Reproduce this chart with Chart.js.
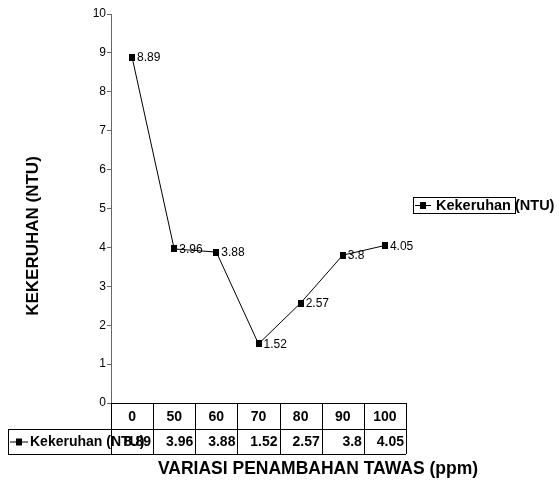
<!DOCTYPE html>
<html><head><meta charset="utf-8">
<script src="https://cdn.jsdelivr.net/npm/chart.js@4"></script>
<style>html,body{margin:0;padding:0;background:#fff}#wrap{width:559px;height:480px;position:relative}</style>
</head><body><div id="wrap"><canvas id="c" width="559" height="480"></canvas></div>
<script>
const categories = ['0', '50', '60', '70', '80', '90', '100'];
const turbidity = [8.89, 3.96, 3.88, 1.52, 2.57, 3.8, 4.05];
const seriesName = 'Kekeruhan (NTU)';
const xTitle = 'VARIASI PENAMBAHAN TAWAS (ppm)';
const yTitle = 'KEKERUHAN (NTU)';
const yMin = 0, yMax = 10, yStep = 1;

const FONT = '"Liberation Sans", Arial, sans-serif';

// small black rectangle marker
const markerCanvas = document.createElement('canvas');
markerCanvas.width = 6; markerCanvas.height = 7;
(function () { const m = markerCanvas.getContext('2d'); m.fillStyle = '#000'; m.fillRect(0, 0, 6, 7); })();

function drawMarker(ctx, x, y, len) {
  ctx.save();
  ctx.strokeStyle = '#000'; ctx.lineWidth = 1;
  ctx.beginPath(); ctx.moveTo(x - len / 2, y + 0.5); ctx.lineTo(x + len / 2, y + 0.5); ctx.stroke();
  ctx.fillStyle = '#000'; ctx.fillRect(x - 3, y - 3, 6, 7);
  ctx.restore();
}

const extras = {
  id: 'extras',
  afterDraw(chart) {
    const ctx = chart.ctx, xs = chart.scales.x, ca = chart.chartArea;
    ctx.save();
    // data labels
    ctx.font = '12px ' + FONT; ctx.fillStyle = '#000';
    ctx.textAlign = 'left'; ctx.textBaseline = 'middle';
    chart.getDatasetMeta(0).data.forEach((pt, i) => {
      ctx.fillText(String(turbidity[i]), pt.x + 5, pt.y + 1);
    });
    // data table
    const colW = (ca.right - ca.left) / categories.length;
    const r0 = ca.bottom, r1 = ca.bottom + 26, r2 = ca.bottom + 51;
    const tableLeft = 8;
    ctx.strokeStyle = '#000'; ctx.lineWidth = 1;
    ctx.beginPath();
    ctx.moveTo(ca.left, r0 + 0.5); ctx.lineTo(ca.right, r0 + 0.5);
    ctx.moveTo(tableLeft, r1 + 0.5); ctx.lineTo(ca.right, r1 + 0.5);
    ctx.moveTo(tableLeft, r2 + 0.5); ctx.lineTo(ca.right, r2 + 0.5);
    ctx.moveTo(tableLeft + 0.5, r1); ctx.lineTo(tableLeft + 0.5, r2);
    for (let i = 0; i <= categories.length; i++) {
      const bx = Math.round(xs.getPixelForValue(0) - colW / 2 + i * colW) + 0.5;
      ctx.moveTo(bx, r0); ctx.lineTo(bx, r2);
    }
    ctx.stroke();
    // header
    ctx.font = 'bold 14px ' + FONT; ctx.textAlign = 'center';
    categories.forEach((c, i) => ctx.fillText(c, xs.getPixelForValue(i), (r0 + r1) / 2 + 1));
    // row label
    drawMarker(ctx, 19, (r1 + r2) / 2, 18);
    ctx.textAlign = 'left';
    ctx.fillText(seriesName, 30, (r1 + r2) / 2 + 1);
    // values right aligned
    ctx.textAlign = 'right';
    turbidity.forEach((v, i) => ctx.fillText(String(v), xs.getPixelForValue(i) + colW / 2 - 2, (r1 + r2) / 2 + 1));
    // x title
    ctx.font = 'bold 17.5px ' + FONT; ctx.textAlign = 'center';
    ctx.fillText(xTitle, 318, 469);
    // y title
    ctx.font = 'bold 17px ' + FONT;
    ctx.save();
    ctx.translate(33, 236); ctx.rotate(-Math.PI / 2);
    ctx.fillText(yTitle, 0, 0);
    ctx.restore();
    // legend
    ctx.strokeStyle = '#000';
    ctx.strokeRect(413.5, 197.5, 102, 16);
    drawMarker(ctx, 423, 205, 16);
    ctx.font = 'bold 14.5px ' + FONT; ctx.textAlign = 'left';
    ctx.fillText(seriesName, 436, 206);
    ctx.restore();
  }
};

new Chart(document.getElementById('c'), {
  type: 'line',
  data: {
    labels: categories,
    datasets: [{
      label: seriesName,
      data: turbidity,
      borderColor: '#000',
      borderWidth: 1,
      pointStyle: markerCanvas,
      pointRadius: 4,
      tension: 0
    }]
  },
  options: {
    responsive: false,
    animation: false,
    events: [],
    layout: { padding: { left: 81, right: 153, top: 14, bottom: 0 } },
    plugins: { legend: { display: false }, tooltip: { enabled: false } },
    scales: {
      x: {
        type: 'category',
        offset: true,
        ticks: { display: false },
        grid: { display: false, drawTicks: false },
        border: { display: true, color: '#000', width: 1 },
        afterFit(s) { s.height = 77; }
      },
      y: {
        min: yMin, max: yMax,
        ticks: { stepSize: yStep, color: '#000', font: { family: FONT, size: 12 }, padding: 1 },
        grid: { drawOnChartArea: false, tickLength: 4, color: '#666' },
        border: { display: true, color: '#666', width: 1 },
        afterFit(s) { s.width = 30; }
      }
    }
  },
  plugins: [extras]
});
</script></body></html>
